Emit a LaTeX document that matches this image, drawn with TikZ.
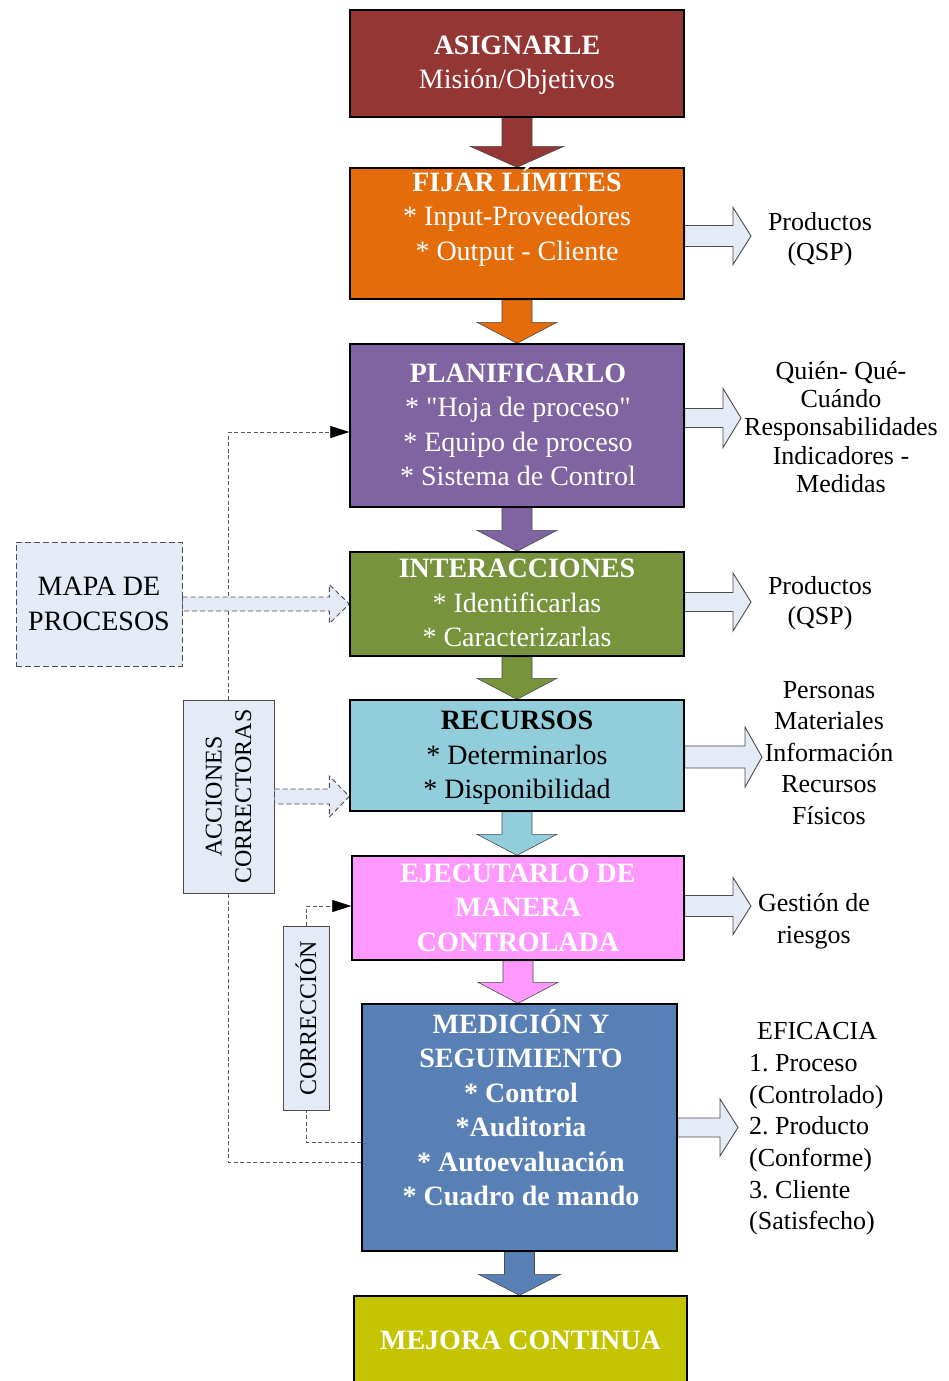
\documentclass[tikz,border=0pt]{standalone}
\usepackage{fontspec}
\setmainfont{Liberation Serif}[Ligatures=TeXOff]
\usetikzlibrary{arrows.meta,calc}
\definecolor{cRed}{HTML}{943634}
\definecolor{cOrange}{HTML}{E46C0A}
\definecolor{cPurple}{HTML}{8064A2}
\definecolor{cGreen}{HTML}{77933C}
\definecolor{cCyan}{HTML}{92CDDC}
\definecolor{cPink}{HTML}{FF99FF}
\definecolor{cBlue}{HTML}{5880B4}
\definecolor{cOlive}{HTML}{C4C400}
\definecolor{cLight}{HTML}{E5EBF6}
\newcommand\mainfs{\fontsize{28}{34.5}\selectfont}
\newcommand\sidefs{\fontsize{26}{31.5}\selectfont}
% vertical block arrow: from node, to node, colour, head half width
\newcommand\varr[4]{%
  \filldraw[fill=#3, draw=black!70, line width=0.6pt] let \p1=(#1.south), \p2=(#2.north) in
  (\x1-15pt,\y1) -- (\x1-15pt,\y2+21pt) -- (\x1-#4,\y2+21pt) -- (\x1,\y2)
  -- (\x1+#4,\y2+21pt) -- (\x1+15pt,\y2+21pt) -- (\x1+15pt,\y1) -- cycle;}
% horizontal block arrow: from, to, style, shaft half, head half, head length
\newcommand\harr[6]{%
  \path[#3] let \p1=(#1), \p2=(#2) in
  (\x1,\y1+#4) -- (\x2-#6,\y1+#4) -- (\x2-#6,\y1+#5) -- (\x2,\y1)
  -- (\x2-#6,\y1-#5) -- (\x2-#6,\y1-#4) -- (\x1,\y1-#4) -- cycle;}
\begin{document}
\frenchspacing
\begin{tikzpicture}[x=1pt,y=-1pt,
  procbox/.style={draw=black, line width=1.4pt, inner sep=0pt, align=center,
    text=white, font=\mainfs},
  boxtext/.style={inner sep=0pt, align=center, text=white, font=\mainfs},
  sidetext/.style={inner sep=0pt, align=center, text=black, font=\sidefs},
  sidearrow/.style={fill=cLight, draw=black!70, line width=0.9pt},
  dasharrow/.style={fill=cLight, draw=black!70, line width=0.9pt, dash pattern=on 5pt off 3pt},
  conn/.style={draw=black!65, line width=0.8pt, dash pattern=on 4pt off 2.5pt},
  tip/.style={-{Triangle[length=19pt,width=12pt,color=black]}},
  lightbox/.style={fill=cLight, draw=black!70, line width=1pt, inner sep=0pt}
  ]
\useasboundingbox (0,0) rectangle (948,1381);
\fill[white] (0,0) rectangle (948,1381);

% ---------- main process boxes
\path
  (517,63.5)   node[procbox, fill=cRed, minimum width=334pt, minimum height=107pt] (asig) {}
  (517,233.5)  node[procbox, fill=cOrange, minimum width=334pt, minimum height=131pt] (fij) {}
  (517,425.5)  node[procbox, fill=cPurple, minimum width=334pt, minimum height=163pt] (plan) {}
  (517,604)    node[procbox, fill=cGreen, minimum width=334pt, minimum height=104pt] (inter) {}
  (517,755.5)  node[procbox, fill=cCyan, minimum width=334pt, minimum height=111pt] (rec) {}
  (518,908)    node[procbox, fill=cPink, minimum width=332pt, minimum height=104pt] (eje) {}
  (519.5,1127.5) node[procbox, fill=cBlue, minimum width=315pt, minimum height=247pt] (med) {}
  (520.5,1341) node[procbox, fill=cOlive, minimum width=333pt, minimum height=90pt] (mej) {};

% left boxes
\node[lightbox, dash pattern=on 6pt off 3pt, minimum width=166pt, minimum height=124pt,
      font=\mainfs, align=center] (mapa) at (99,604) {MAPA DE\\PROCESOS};
\node[lightbox, minimum width=91pt, minimum height=193pt] (acc) at (228.5,796.5) {};
\node[lightbox, minimum width=46pt, minimum height=184pt] (corr) at (306,1018) {};
\node[rotate=90, inner sep=0pt, align=center, font=\fontsize{24}{29.5}\selectfont]
  (accT) at (acc.center) {ACCIONES\\CORRECTORAS};
\node[rotate=90, inner sep=0pt, font=\fontsize{24}{29.5}\selectfont]
  (corrT) at (corr.center) {CORRECCIÓN};

% ---------- feedback connectors
\draw[conn] ([yshift=-34.5pt]med.west) -| (acc.south);
\draw[conn, tip] (acc.north) |- ([yshift=-6.5pt]plan.west);
\draw[conn] ([yshift=-14.5pt]med.west) -| (corr.south);
\draw[conn, tip] (corr.north) |- ([yshift=2pt]eje.west);

% ---------- dashed block arrows from the left
\harr{mapa.east}{inter.west}{dasharrow}{7pt}{19.5pt}{20pt}
\harr{acc.east}{rec.west}{dasharrow}{7.5pt}{20.5pt}{20pt}

% ---------- vertical block arrows
\varr{asig}{fij}{cRed}{47pt}
\varr{fij}{plan}{cOrange}{40pt}
\varr{plan}{inter}{cPurple}{40pt}
\varr{inter}{rec}{cGreen}{40pt}
\varr{rec}{eje}{cCyan}{40pt}
\varr{eje}{med}{cPink}{40pt}
\varr{med}{mej}{cBlue}{41pt}

% ---------- right-side arrow tips
\coordinate (fijTip)   at (751,236);
\coordinate (planTip)  at (741,418);
\coordinate (interTip) at (751,602);
\coordinate (recTip)   at (762,757);
\coordinate (ejeTip)   at (751,906);
\coordinate (medTip)   at (738,1128);
\harr{[yshift=-2.5pt]fij.east}{fijTip}{sidearrow}{10.5pt}{28.5pt}{18pt}
\harr{[yshift=7.5pt]plan.east}{planTip}{sidearrow}{9.5pt}{29.5pt}{18pt}
\harr{[yshift=2pt]inter.east}{interTip}{sidearrow}{9.5pt}{29pt}{18pt}
\harr{[yshift=-1.5pt]rec.east}{recTip}{sidearrow}{11pt}{30pt}{17pt}
\harr{[yshift=2pt]eje.east}{ejeTip}{sidearrow}{10.5pt}{28.5pt}{18pt}
\harr{med.east}{medTip}{sidearrow}{9.5pt}{28.5pt}{18pt}

% ---------- redraw box outlines on top of arrows
\foreach \b in {asig,fij,plan,inter,rec,eje,med,mej}
  \draw[line width=1.4pt] (\b.north west) rectangle (\b.south east);

% ---------- box texts
\node[boxtext] (asigT) at (517,65) {{\bfseries ASIGNARLE}\\Misión/Objetivos};
\node[boxtext] (fijT) at (517,216.5) {{\bfseries FIJAR LÍMITES}\\* Input-Proveedores\\* Output - Cliente};
\node[boxtext] (planT) at (518,425) {{\bfseries PLANIFICARLO}\\* "Hoja de proceso"\\* Equipo de proceso\\* Sistema de Control};
\node[boxtext] (interT) at (517,603) {{\bfseries INTERACCIONES}\\* Identificarlas\\* Caracterizarlas};
\node[boxtext, text=black] (recT) at (517,758) {{\bfseries RECURSOS}\\* Determinarlos\\* Disponibilidad};
\node[boxtext, font=\mainfs\bfseries] (ejeT) at (518,907.5) {EJECUTARLO DE\\MANERA\\CONTROLADA};
\node[boxtext, font=\mainfs\bfseries] (medT) at (521,1107.5) {MEDICIÓN Y\\SEGUIMIENTO\\* Control\\*Auditoria\\* Autoevaluación\\* Cuadro de mando};
\node[boxtext, font=\mainfs\bfseries] (mejT) at (520.5,1340) {MEJORA CONTINUA};

% ---------- side texts
\node[sidetext, font=\fontsize{26}{30}\selectfont] (out1) at (820,239.5) {Productos\\(QSP)};
\node[sidetext, font=\fontsize{26}{28.3}\selectfont] (out2) at (841,427) {Quién- Qué-\\Cuándo\\Responsabilidades\\Indicadores -\\Medidas};
\node[sidetext, font=\fontsize{26}{30}\selectfont] (out3) at (820,603.5) {Productos\\(QSP)};
\node[sidetext] (out4) at (829,753) {Personas\\Materiales\\Información\\Recursos\\Físicos};
\node[sidetext, font=\fontsize{26}{32}\selectfont] (out5) at (814,921) {Gestión de\\riesgos};
\node[sidetext, align=left, anchor=west, font=\fontsize{26}{31.7}\selectfont] (out6) at (749,1129)
  {\hspace*{8pt}EFICACIA\\1. Proceso\\(Controlado)\\2. Producto\\(Conforme)\\3. Cliente\\(Satisfecho)};
\end{tikzpicture}
\end{document}
